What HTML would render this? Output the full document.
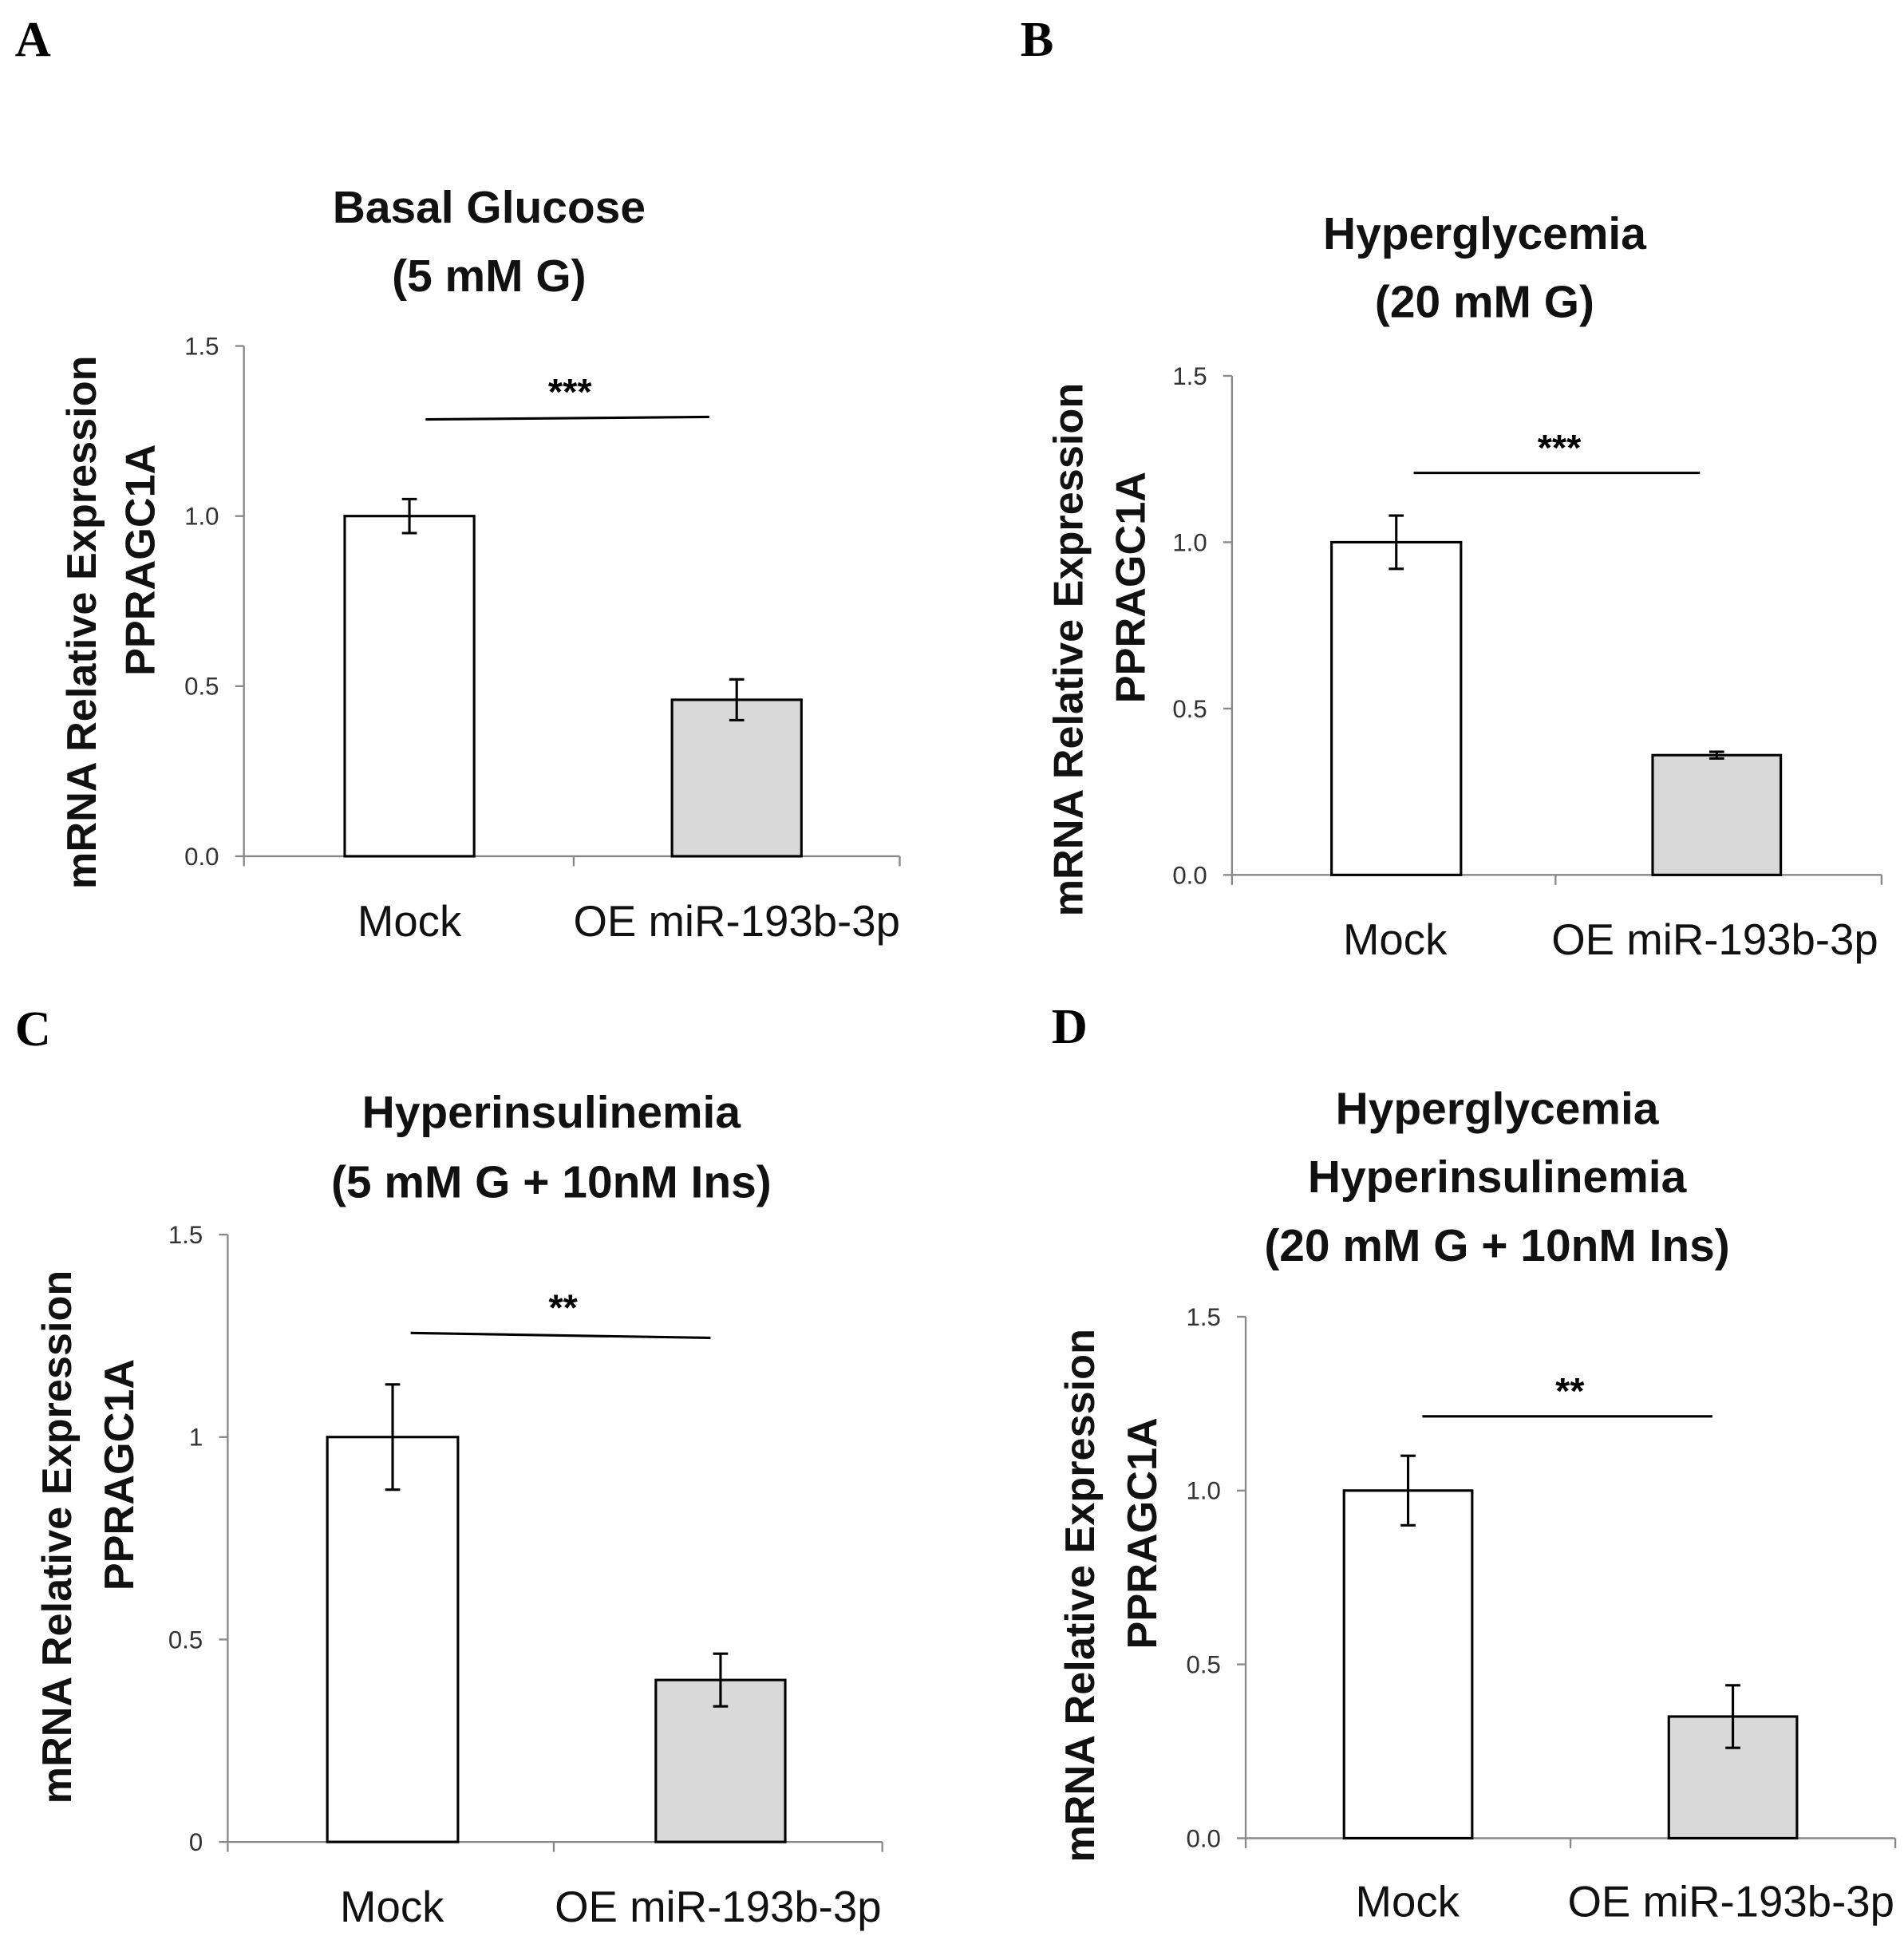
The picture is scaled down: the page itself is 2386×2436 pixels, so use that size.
<!DOCTYPE html>
<html><head><meta charset="utf-8"><style>
html,body{margin:0;padding:0;background:#fff;}
svg{display:block;}
text{font-family:"Liberation Sans",sans-serif;}
</style></head><body>
<svg id="fig" width="2386" height="2436" viewBox="0 0 1530 1562" preserveAspectRatio="none" xmlns="http://www.w3.org/2000/svg"></svg>
<script>
const categories = ["Mock", "OE miR-193b-3p"];
const valuesA = [1.0, 0.46];
const errorsA = [0.05, 0.06];
const valuesB = [1.0, 0.36];
const errorsB = [0.08, 0.01];
const valuesC = [1.0, 0.40];
const errorsC = [0.13, 0.065];
const valuesD = [1.0, 0.35];
const errorsD = [0.10, 0.09];
const ticksDecimal = ["0.0", "0.5", "1.0", "1.5"];
const ticksInt = ["0", "0.5", "1", "1.5"];
const tickValues = [0, 0.5, 1.0, 1.5];
const sigLabels = ["***", "***", "**", "**"];

const NS = "http://www.w3.org/2000/svg";
const svg = document.getElementById("fig");
function el(tag, attrs, parent, txt) {
  const e = document.createElementNS(NS, tag);
  for (const k in attrs) e.setAttribute(k, attrs[k]);
  if (txt !== undefined) e.textContent = txt;
  (parent || svg).appendChild(e);
  return e;
}

const panels = [
  {id:"a", letter:"A", lx:12, ly:45, vals:valuesA, errs:errorsA, ticks:ticksDecimal, ax:196, y0:688, y15:278, xe:723, mid:461,
   bars:[[277,381],[540,644]], sig:[342,570,337,335], title:["Basal Glucose","(5 mM G)"], ty:[179,234], tcx:393,
   yt:[65,112], ytc:500, ly2:752, lc:[329,592]},
  {id:"b", letter:"B", lx:820, ly:45, vals:valuesB, errs:errorsB, ticks:ticksDecimal, ax:990, y0:703, y15:302, xe:1512, mid:1250,
   bars:[[1070,1174],[1328,1431]], sig:[1136,1366,380,380], title:["Hyperglycemia","(20 mM G)"], ty:[200,255], tcx:1193,
   yt:[858,908], ytc:522, ly2:767, lc:[1121,1378]},
  {id:"c", letter:"C", lx:12, ly:840, vals:valuesC, errs:errorsC, ticks:ticksInt, ax:183, y0:1480, y15:992, xe:709, mid:445,
   bars:[[263,368],[527,631]], sig:[330,571,1071,1075], title:["Hyperinsulinemia","(5 mM G + 10nM Ins)"], ty:[906,962], tcx:443,
   yt:[45,95], ytc:1235, ly2:1544, lc:[315,577]},
  {id:"d", letter:"D", lx:845, ly:838, vals:valuesD, errs:errorsD, ticks:ticksDecimal, ax:1001, y0:1477, y15:1058, xe:1523, mid:1262,
   bars:[[1080,1183],[1341,1444]], sig:[1143,1376,1138,1138], title:["Hyperglycemia","Hyperinsulinemia","(20 mM G + 10nM Ins)"], ty:[903,958,1013], tcx:1203,
   yt:[867,917], ytc:1282, ly2:1540, lc:[1131,1391]}
];

panels.forEach((p, pi) => {
  const g = el("g", {});
  
  
  const yScale = v => p.y0 - (v / 1.5) * (p.y0 - p.y15);

  const L = el("text", {x:p.lx, y:p.ly, "font-weight":"bold", "font-size":"40", fill:"#000", style:"font-family:'Liberation Serif',serif"}, g, p.letter);
  
  

  p.title.forEach((t, i) => {
    const tt = el("text", {x:p.tcx, y:p.ty[i], "text-anchor":"middle", "font-weight":"bold", "font-size":"36.5", fill:"#111"}, g, t);
    
    
  });

  const yl = el("g", {transform:"rotate(-90)"}, g);
  
  
  el("text", {x:-p.ytc, y:p.yt[0] + 12, "text-anchor":"middle", "font-weight":"bold", "font-size":"33.5", fill:"#111"}, yl, "mRNA Relative Expression");
  el("text", {x:-p.ytc + 50, y:p.yt[1] + 12, "text-anchor":"middle", "font-weight":"bold", "font-size":"33.5", fill:"#111"}, yl, "PPRAGC1A");

  const ya = el("line", {x1:p.ax, y1:p.y15, x2:p.ax, y2:p.y0, stroke:"#888", "stroke-width":"1.5"}, g);
  
  
  tickValues.forEach((v, i) => {
    const y = yScale(v);
    el("line", {x1:p.ax - 7, y1:y, x2:p.ax, y2:y, stroke:"#888", "stroke-width":"1.5"}, g);
    const tl = el("text", {x:p.ax - 20, y:y + 7, "text-anchor":"end", "font-size":"20", fill:"#333"}, g, p.ticks[i]);
    
    
  });
  const xa = el("line", {x1:p.ax, y1:p.y0, x2:p.xe, y2:p.y0, stroke:"#888", "stroke-width":"1.5"}, g);
  
  
  [p.ax, p.mid, p.xe].forEach(x => el("line", {x1:x, y1:p.y0, x2:x, y2:p.y0 + 8, stroke:"#888", "stroke-width":"1.5"}, g));

  categories.forEach((c, i) => {
    const [x1, x2] = p.bars[i];
    const top = yScale(p.vals[i]);
    const b = el("rect", {x:x1, y:top, width:x2 - x1, height:p.y0 - top, fill:i ? "#d9d9d9" : "#fff", stroke:"#000", "stroke-width":"2"}, g);
    
    
    const cx = (x1 + x2) / 2;
    const eh = yScale(p.vals[i] + p.errs[i]), elo = yScale(p.vals[i] - p.errs[i]);
    const eg = el("g", {stroke:"#000", "stroke-width":"2"}, g);
    
    
    el("line", {x1:cx, y1:eh, x2:cx, y2:elo}, eg);
    el("line", {x1:cx - 6, y1:eh, x2:cx + 6, y2:eh}, eg);
    el("line", {x1:cx - 6, y1:elo, x2:cx + 6, y2:elo}, eg);
    const cl = el("text", {x:p.lc[i], y:p.ly2, "text-anchor":"middle", "font-size":"35", fill:"#111"}, g, c);
    
    
  });

  const s = p.sig;
  const sl = el("line", {x1:s[0], y1:s[2], x2:s[1], y2:s[3], stroke:"#000", "stroke-width":"2"}, g);
  
  
  const st = el("text", {x:(s[0] + s[1]) / 2 + 2, y:Math.min(s[2], s[3]) - 10, "text-anchor":"middle", "font-weight":"bold", "font-size":"30", fill:"#000"}, g, sigLabels[pi]);
  
  
});
</script>
</body></html>
